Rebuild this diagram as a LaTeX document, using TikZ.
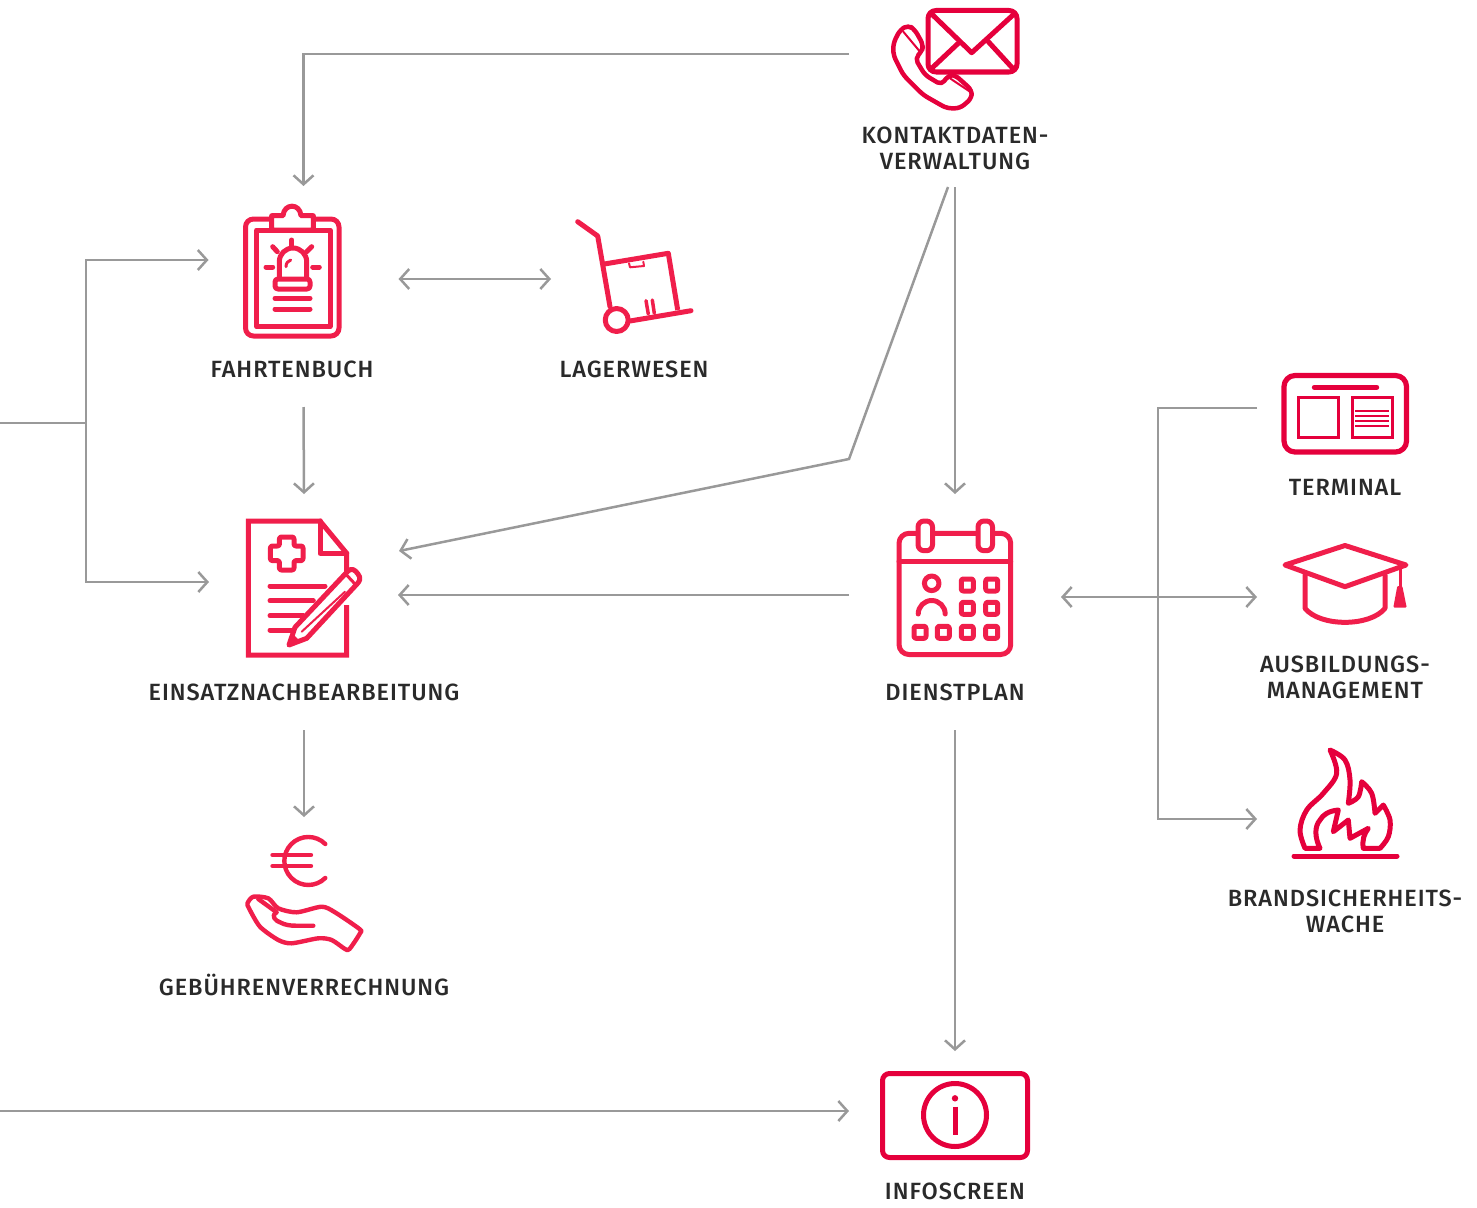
\documentclass[tikz,border=0pt]{standalone}
\usepackage{fontspec}
\setmainfont{Fira Sans Medium}[LetterSpace=4]
\usetikzlibrary{arrows.meta}
\definecolor{rot}{HTML}{F01E4B}
\definecolor{rotdunkel}{HTML}{E5003C}
\definecolor{linie}{HTML}{999999}
\definecolor{schrift}{HTML}{2A2A2A}
\tikzset{
	slot/.style 2 args={minimum width=#1pt,minimum height=#2pt,inner sep=0pt,outer sep=0pt},
	caption/.style={font=\fontsize{23.5}{26}\selectfont,text=schrift,align=center,inner sep=0pt},
	flow/.style={draw=linie,line width=2.5pt},
	flowtip/.style={flow,-{Straight Barb[length=9pt,width=20pt,line width=2.5pt]}},
	flowboth/.style={flow,{Straight Barb[length=9pt,width=20pt,line width=2.5pt]}-{Straight Barb[length=9pt,width=20pt,line width=2.5pt]}},
	icon/.style={draw=rot,line width=5pt,line join=round,line cap=round},
	icondark/.style={draw=rotdunkel,line width=5pt,line join=round,line cap=round},
}
\begin{document}
\begin{tikzpicture}[x=1pt,y=-1pt]
	\useasboundingbox (0,0) rectangle (1477,1207);
	%% the slots the connectors attach to
	\node[slot={212}{266}] (kontakt) at (955,54) {};
	\node[slot={190}{221}] (fahrtenbuch) at (303.5,296.5) {};
	\node[slot={166}{100}] (lager) at (634,279) {};
	\node[slot={190}{236}] (einsatz) at (304,612) {};
	\node[slot={190}{182}] (gebuehren) at (304,908) {};
	\node[slot={212}{236}] (dienstplan) at (955,612) {};
	\node[slot={212}{120}] (infoscreen) at (955,1111) {};
	\node[slot={176}{100}] (terminal) at (1345,408) {};
	\node[slot={176}{100}] (ausbildung) at (1345,597) {};
	\node[slot={176}{100}] (brand) at (1345,819) {};
	\coordinate (zulauf) at (0,423);
	\coordinate (abzweig) at (86,423);
	\coordinate (infozulauf) at (0,1111);
	\coordinate (knick) at (849,459);
	\coordinate (schiene) at (1158,408);
	%% the connectors
	\draw[flowtip] (kontakt.west) -| (fahrtenbuch.north);
	\draw[flow] (zulauf) -- (abzweig);
	\draw[flowtip] (abzweig) |- ([yshift=36.5pt]fahrtenbuch.west);
	\draw[flowtip] (abzweig) |- ([yshift=30pt]einsatz.west);
	\draw[flowboth] (fahrtenbuch.east |- lager.west) -- (lager.west);
	\draw[flowtip] (fahrtenbuch.south) -- (einsatz.north);
	\draw[flowtip] ([xshift=-7pt]kontakt.south) -- (knick) -- ([yshift=61pt]einsatz.east);
	\draw[flowtip] (kontakt.south) -- (dienstplan.north);
	\draw[flowtip] ([yshift=17pt]dienstplan.west) -- ([xshift=-1pt,yshift=17pt]einsatz.east);
	\draw[flowtip] (einsatz.south) -- (gebuehren.north);
	\draw[flowtip] (dienstplan.south) -- (infoscreen.north);
	\draw[flowboth] (dienstplan.east |- ausbildung.west) -- (ausbildung.west);
	\draw[flowtip] (terminal.west) -- (schiene) |- (brand.west);
	\draw[flowtip] (infozulauf) -- (infoscreen.west);
	%% kontaktdaten icon
	\draw[icondark] (928,10.5) [rounded corners=8pt] rectangle (1017,72);
	\draw[icondark] (932.7,15) -- (971.7,52.7) -- (1013,15);
	\draw[icondark] (931.7,68.3) -- (959.3,42.3);
	\draw[icondark] (1012.7,68.3) -- (988.3,41.7);
	\draw[icondark,line width=4.5pt,rounded corners=5pt] (893.3,43.3) -- (900,30) -- (908.3,25) -- (915,30) -- (923.3,45) -- (921.7,51.7) -- (915,58.3) -- (925,75) -- (941.7,85) -- (948.3,75) -- (955,75) -- (971.7,90) -- (971.7,98.3) -- (960,108.3) -- (946.7,108.3) -- (923.3,95) -- (903.3,75) -- (893.3,55) -- cycle;
	\draw[icondark,line width=2pt] (903.3,31.7) -- (920,51.7);
	\draw[icondark,line width=2pt] (950,78.3) -- (970,91.7);
	%% fahrtenbuch icon
	\draw[icon,rounded corners=8pt] (245.5,219) rectangle (339,336);
	\draw[icon] (256.7,230) rectangle (330,326.7);
	\draw[icon,fill=white] (271.7,230) -- (271.7,215.7) -- (283,215.7) .. controls (284,203) and (300,203) .. (301,215.7) -- (313.3,215.7) -- (313.3,230) -- cycle;
	\draw[icon] (279.3,278) -- (279.3,261.7) arc[start angle=180,end angle=0,radius=13.7pt] -- (306.7,278);
	\draw[icon,rounded corners=3pt] (275,279) rectangle (310,289);
	\draw[icon,line width=3pt] (286,266.7) .. controls (286,263) and (288,261) .. (290.7,260);
	\draw[icon] (291.7,240) -- (291.7,246.7);
	\draw[icon] (272.7,246.7) -- (277.3,251.7);
	\draw[icon] (311.7,246.7) -- (306.7,251.7);
	\draw[icon] (266,267) -- (272.7,267);
	\draw[icon] (312.7,267) -- (319.3,267);
	\draw[icon] (275,298.3) -- (310,298.3);
	\draw[icon] (275,309) -- (310,309);
	%% lagerwesen icon
	\draw[icon] (577.7,221.7) -- (597.7,236) -- (610,306.7);
	\draw[icon] (616.7,320) circle[radius=11.5pt];
	\draw[icon] (630,321) -- (691,310.7);
	\draw[icon,line cap=butt] (604.3,264) -- (668.3,253.3) -- (677.7,310);
	\draw[icon,line width=2pt] (629,263.3) -- (630,267.3) -- (644,266) -- (643.3,261.7);
	\draw[icon,line width=3.5pt] (646,300.7) -- (648.3,314);
	\draw[icon,line width=3.5pt] (652.3,300) -- (654.3,313.3);
	%% einsatz icon
	\draw[icon,line cap=butt,line join=miter] (346.7,572) -- (346.7,553.3) -- (320,521) -- (248.3,521) -- (248.3,655) -- (346.7,655) -- (346.7,605);
	\draw[icon] (320,521) -- (320,553.3) -- (346.7,553.3);
	\draw[icon,rounded corners=2pt] (279.4,537) -- (294,537) -- (294,546) -- (303,546) -- (303,560.6) -- (294,560.6) -- (294,570) -- (279.4,570) -- (279.4,560.6) -- (270.4,560.6) -- (270.4,546) -- (279.4,546) -- cycle;
	\draw[icon] (270,586) -- (325,586);
	\draw[icon] (270,600.7) -- (313.3,600.7);
	\draw[icon] (270,615.7) -- (303.3,615.7);
	\draw[icon] (270,630) -- (293.3,630);
	\draw[icon,fill=white] (289,645) -- (295,627.3) -- (347,572) .. controls (352,567) and (355,570) .. (358,574) .. controls (361,578) and (360,581) .. (357,584) -- (306.7,638.3) -- cycle;
	\draw[icon,line width=2pt] (301.7,631.7) -- (345,591.7);
	\draw[icon,line width=3pt] (345,573.3) -- (355,584);
	\fill[rot] (289,645) -- (292,633) -- (300,641) -- cycle;
	%% dienstplan icon
	\draw[icon,rounded corners=10pt] (899,533.3) rectangle (1010.7,654.5);
	\draw[icon] (899,561.7) -- (1010.7,561.7);
	\foreach \ringx in {918,978} {
		\draw[icon,fill=white,rounded corners=6pt] (\ringx,521) rectangle (\ringx+14.5,550.7);
	}
	\draw[icon] (931.7,583.3) circle[radius=7.3pt];
	\draw[icon] (918.2,614) arc[start angle=180,end angle=0,radius=13.5pt];
	\foreach \boxx/\boxy in {967.3/585,991.7/585,967.3/608.3,991.7/608.3,920/632.3,943.3/632.3,967.3/632.3,991.7/632.3} {
		\draw[icon,rounded corners=2pt] (\boxx-6,\boxy-6) rectangle (\boxx+6,\boxy+6);
	}
	%% gebuehren icon
	\draw[icon,line width=4.4pt] (325.3,844) arc[start angle=45,end angle=315,radius=24pt];
	\draw[icon,line width=4.4pt] (272.5,855) -- (311,855);
	\draw[icon,line width=4.4pt] (272.5,866) -- (311,866);
	\draw[icon,line width=4.4pt] plot[smooth cycle,tension=.45] coordinates {(247.5,903.3) (253.3,896.7) (268.3,898.3) (278.3,908.3) (296.7,912.3) (321.7,906.7) (335,912.3) (359.5,929) (360,933.3) (349.5,949) (345,949) (331.7,940) (318.3,938.3) (291.7,943.3) (278.3,940) (260,926.7) (249,908.3)};
	\draw[icon,line width=4.4pt] (258.3,899) -- (276.7,912.3) .. controls (270,916) and (276,921) .. (280,922.3) .. controls (285,925) and (290,925.7) .. (296,925.7) -- (313.3,925.7);
	%% terminal icon
	\draw[icondark,line width=5.2pt,rounded corners=11pt] (1284,375.5) rectangle (1406.5,452);
	\draw[icondark] (1314.3,387.3) -- (1376.7,387.3);
	\draw[icondark,line width=2.5pt,line join=miter] (1298.3,397.3) rectangle (1338.3,437.3);
	\draw[icondark,line width=2.5pt,line join=miter] (1352.3,397.3) rectangle (1392.3,437.3);
	\foreach \liney in {411,416,421,426} {
		\draw[icondark,line width=2.5pt,line cap=butt] (1355,\liney) -- (1389,\liney);
	}
	%% ausbildung icon
	\draw[icon] (1285,565) -- (1345,545.5) -- (1406,565) -- (1345,586.7) -- cycle;
	\draw[icon] (1305,575) -- (1305,608.3) .. controls (1320,627) and (1370,627) .. (1385,608.3) -- (1385,575);
	\draw[icon,line width=3pt] (1400,566.7) -- (1400,590);
	\fill[rot,rounded corners=1pt] (1397.3,586) -- (1402.3,586) -- (1406.7,607.5) -- (1393.3,607.5) -- cycle;
	%% brandsicherheit icon
	\draw[icondark] plot[smooth,tension=.6] coordinates {(1305,848.3) (1300,830) (1306.7,810) (1323.3,793.3) (1336.7,773.3) (1330,750)} -- plot[smooth,tension=.6] coordinates {(1330,750) (1345,760) (1350,780) (1348.3,803.3)} -- plot[smooth,tension=.6] coordinates {(1348.3,803.3) (1358.3,796.7) (1361.7,781.7)} -- plot[smooth,tension=.6] coordinates {(1361.7,781.7) (1371.7,793.3) (1375,813.3)} -- (1383.3,805) -- plot[smooth,tension=.6] coordinates {(1383.3,805) (1390,820) (1388.3,836.7) (1380,848.3)} -- (1363.3,848.3) .. controls (1362,840) and (1364,834) .. (1368.3,828.3) -- (1350,838.3) -- (1348.3,820) -- (1333.3,831.7) -- (1338.3,810) .. controls (1328,811) and (1323,815) .. (1320,820) .. controls (1314,827) and (1315,838) .. (1320,848.3) -- cycle;
	\draw[icondark] (1294,856) -- (1397,856);
	%% infoscreen icon
	\draw[icondark,rounded corners=7pt] (882.5,1073.5) rectangle (1027.5,1157.5);
	\draw[icondark] (955,1115) circle[radius=31.5pt];
	\fill[rotdunkel] (955,1098.3) circle[radius=3.2pt];
	\draw[icondark,line cap=butt] (955,1106.7) -- (955,1135);
	%% the labels
	\node[caption] (kontakttext) at (955,148.5) {KONTAKTDATEN-\\VERWALTUNG};
	\node[caption] (fahrtenbuchtext) at (292,369.5) {FAHRTENBUCH};
	\node[caption] (lagertext) at (634,369.5) {LAGERWESEN};
	\node[caption] (einsatztext) at (304,692.5) {EINSATZNACHBEARBEITUNG};
	\node[caption] (dienstplantext) at (955,692.5) {DIENSTPLAN};
	\node[caption] (gebuehrentext) at (304,985) {GEBÜHRENVERRECHNUNG};
	\node[caption] (terminaltext) at (1345,487.5) {TERMINAL};
	\node[caption] (ausbildungtext) at (1345,677.5) {AUSBILDUNGS-\\MANAGEMENT};
	\node[caption] (brandtext) at (1345,911.5) {BRANDSICHERHEITS-\\WACHE};
	\node[caption] (infoscreentext) at (955,1191.5) {INFOSCREEN};
\end{tikzpicture}
\end{document}
